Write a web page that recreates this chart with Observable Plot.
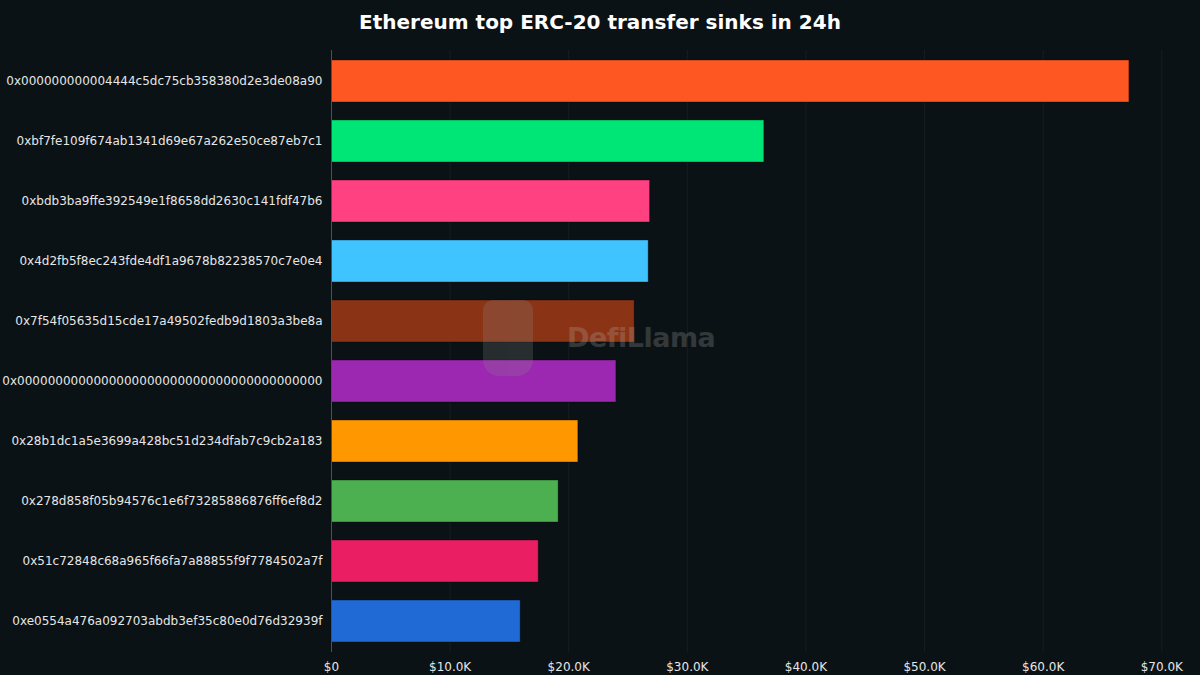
<!DOCTYPE html>
<html>
<head>
<meta charset="utf-8">
<script src="https://cdn.jsdelivr.net/npm/d3@7"></script>
<script src="https://cdn.jsdelivr.net/npm/@observablehq/plot@0.6"></script>
<style>
  html, body { margin: 0; padding: 0; background: #0b1215; }
  #wrap { position: relative; width: 1200px; height: 675px; overflow: hidden; }
  #title {
    height: 44px; line-height: 44px; text-align: center;
    font-family: "DejaVu Sans", sans-serif; font-weight: bold; font-size: 20px;
    color: #ffffff;
  }
  #mark {
    position: absolute; left: 483px; top: 300px; width: 240px; height: 76px;
    opacity: 0.22; pointer-events: none;
  }
  #mark .logo {
    position: absolute; left: 0; top: 0; width: 50px; height: 76px;
    background: #8f8f8f; border-radius: 10px 10px 16px 16px;
  }
  #mark .word {
    position: absolute; left: 84px; top: 22px;
    font-family: "DejaVu Sans", sans-serif; font-weight: bold; font-size: 27px;
    color: #c0c0c0; letter-spacing: -0.5px;
  }
</style>
</head>
<body>
<div id="wrap">
  <div id="title">Ethereum top ERC-20 transfer sinks in 24h</div>
  <div id="chart"></div>
  <div id="mark"><div class="logo"></div><div class="word">DefiLlama</div></div>
</div>
<script>
// top sinks, USD received in 24h
const addresses = [
  "0x000000000004444c5dc75cb358380d2e3de08a90",
  "0xbf7fe109f674ab1341d69e67a262e50ce87eb7c1",
  "0xbdb3ba9ffe392549e1f8658dd2630c141fdf47b6",
  "0x4d2fb5f8ec243fde4df1a9678b82238570c7e0e4",
  "0x7f54f05635d15cde17a49502fedb9d1803a3be8a",
  "0x0000000000000000000000000000000000000000",
  "0x28b1dc1a5e3699a428bc51d234dfab7c9cb2a183",
  "0x278d858f05b94576c1e6f73285886876ff6ef8d2",
  "0x51c72848c68a965f66fa7a88855f9f7784502a7f",
  "0xe0554a476a092703abdb3ef35c80e0d76d32939f"
]
const values = [67270, 36490, 26860, 26740, 25560, 24020, 20810, 19150, 17470, 15950]
const palette = ["#ff5722", "#00e676", "#ff4081", "#40c4ff", "#8b3415",
                 "#9c27b0", "#ff9800", "#4caf50", "#e91e63", "#1f6ad4"]
const xTicks = [0, 10000, 20000, 30000, 40000, 50000, 60000, 70000]

const data = addresses.map((a, i) => ({address: a, value: values[i]}))

const fmt = d => d === 0 ? "$0" : "$" + (d / 1000).toFixed(1) + "K"

let chart = Plot.plot({
  width: 1200,
  height: 631,
  marginLeft: 331,
  marginRight: 15,
  marginTop: 6,
  marginBottom: 23,
  style: {
    background: "#0b1215",
    color: "#e6e6e6",
    fontFamily: "DejaVu Sans, sans-serif",
    fontSize: "12px"
  },
  x: {domain: [0, 72000], ticks: xTicks, tickFormat: fmt, tickSize: 0, tickPadding: 10, label: null},
  y: {domain: addresses, paddingInner: 0.30, paddingOuter: 0.15, tickSize: 0, tickPadding: 9, label: null},
  color: {domain: addresses, range: palette},
  marks: [
    Plot.gridX(xTicks, {stroke: "#ffffff", strokeOpacity: 0.05}),
    Plot.barX(data, {x: "value", y: "address", fill: "address", stroke: "#000000", strokeOpacity: 0.35, strokeWidth: 1}),
    Plot.ruleX([0], {stroke: "#4a5256", strokeWidth: 1})
  ]
})
d3.select('#chart').append(() => chart)
</script>
</body>
</html>
